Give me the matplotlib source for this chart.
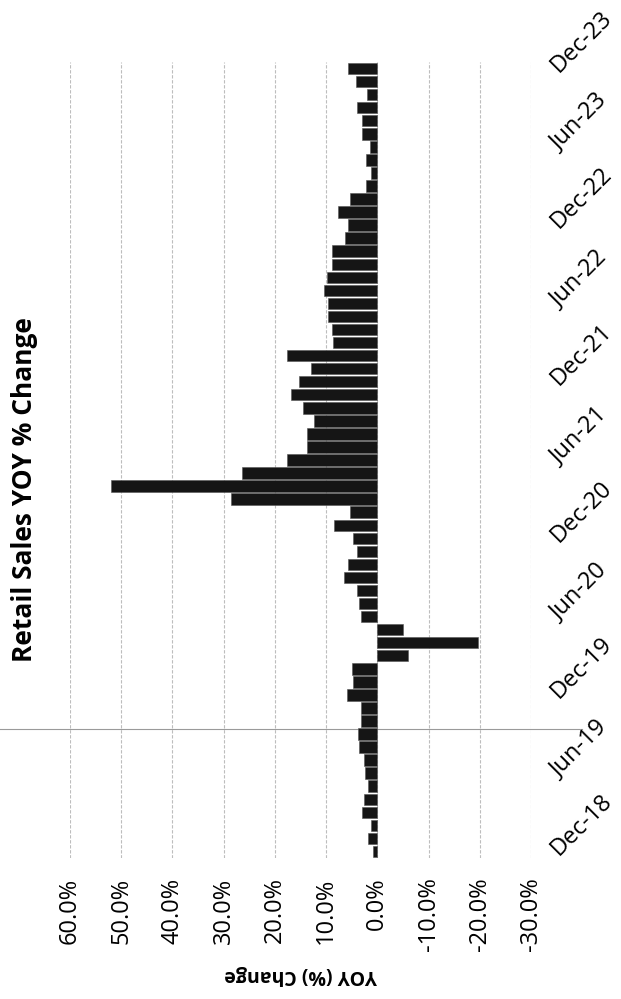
import numpy as np
import pandas as pd
import matplotlib
matplotlib.use("Agg")
import matplotlib.pyplot as plt
from matplotlib.ticker import FuncFormatter

plt.rcParams['font.family'] = ['Open Sans', 'DejaVu Sans']

# monthly retail sales, year-over-year % change (Dec-18 .. Dec-23)
months = pd.date_range("2018-12-01", periods=61, freq="MS").strftime("%b-%y").tolist()
yoy = [
    0.8,
    1.9, 1.2, 2.9, 2.7, 1.8, 2.5, 2.7, 3.5, 3.7, 3.1, 3.2, 6.0,
    4.8, 5.0, -5.9, -19.7, -5.1, 3.1, 3.5, 3.9, 6.6, 5.8, 3.9, 4.7,
    8.5, 5.3, 28.6, 52.0, 26.4, 17.7, 13.8, 13.8, 12.4, 14.6, 16.9, 15.3,
    13.0, 17.7, 8.7, 8.9, 9.6, 9.6, 10.5, 9.9, 8.8, 8.9, 6.3, 5.8,
    7.6, 5.4, 2.3, 1.3, 2.3, 1.5, 2.9, 3.0, 4.0, 2.1, 4.2, 5.7,
]
value_ticks = [60, 50, 40, 30, 20, 10, 0, -10, -20, -30]
date_ticks = ["Dec-18", "Jun-19", "Dec-19", "Jun-20", "Dec-20", "Jun-21",
              "Dec-21", "Jun-22", "Dec-22", "Jun-23", "Dec-23"]

fig = plt.figure(figsize=(6.21, 9.99), dpi=100)
ax = fig.add_axes([70 / 621, 1 - 858 / 999, 461 / 621, 796 / 999])

pos = np.arange(len(months))
ax.barh(pos, yoy, height=0.88, color="#151515", edgecolor="#555555", linewidth=0.4, zorder=3)

ax.set_xlim(60, -30)
ax.set_ylim(-0.5, len(months) - 0.5)
ax.set_xticks(value_ticks)
ax.xaxis.set_major_formatter(FuncFormatter(lambda v, p: f"{v:.1f}%"))
ax.grid(axis="x", color="#bdbdbd", linewidth=0.8, linestyle=(0, (3, 1.5)), zorder=0)
ax.tick_params(axis="x", length=0, pad=14, labelsize=17, labelrotation=90)
for s in ax.spines.values():
    s.set_visible(False)

ax.yaxis.tick_right()
ax.set_yticks([months.index(m) for m in date_ticks])
ax.set_yticklabels(date_ticks)
ax.tick_params(axis="y", length=0, pad=17, labelsize=17)
plt.setp(ax.get_yticklabels(), rotation=45, rotation_mode="anchor", ha="left", va="center")

ax.set_xlabel("YOY (%) Change", fontsize=14, fontweight="bold", rotation=180, labelpad=10)

# scanner line across the page
ax.axhline(9.35, xmin=-0.16, xmax=1.11, color="#9a9a9a", linewidth=0.8, clip_on=False, zorder=1)

fig.text(0.04, 0.51, "Retail Sales YOY % Change", rotation=90, fontsize=19,
         fontweight="bold", ha="center", va="center")

fig.savefig("out.png", dpi=100, facecolor="white")
